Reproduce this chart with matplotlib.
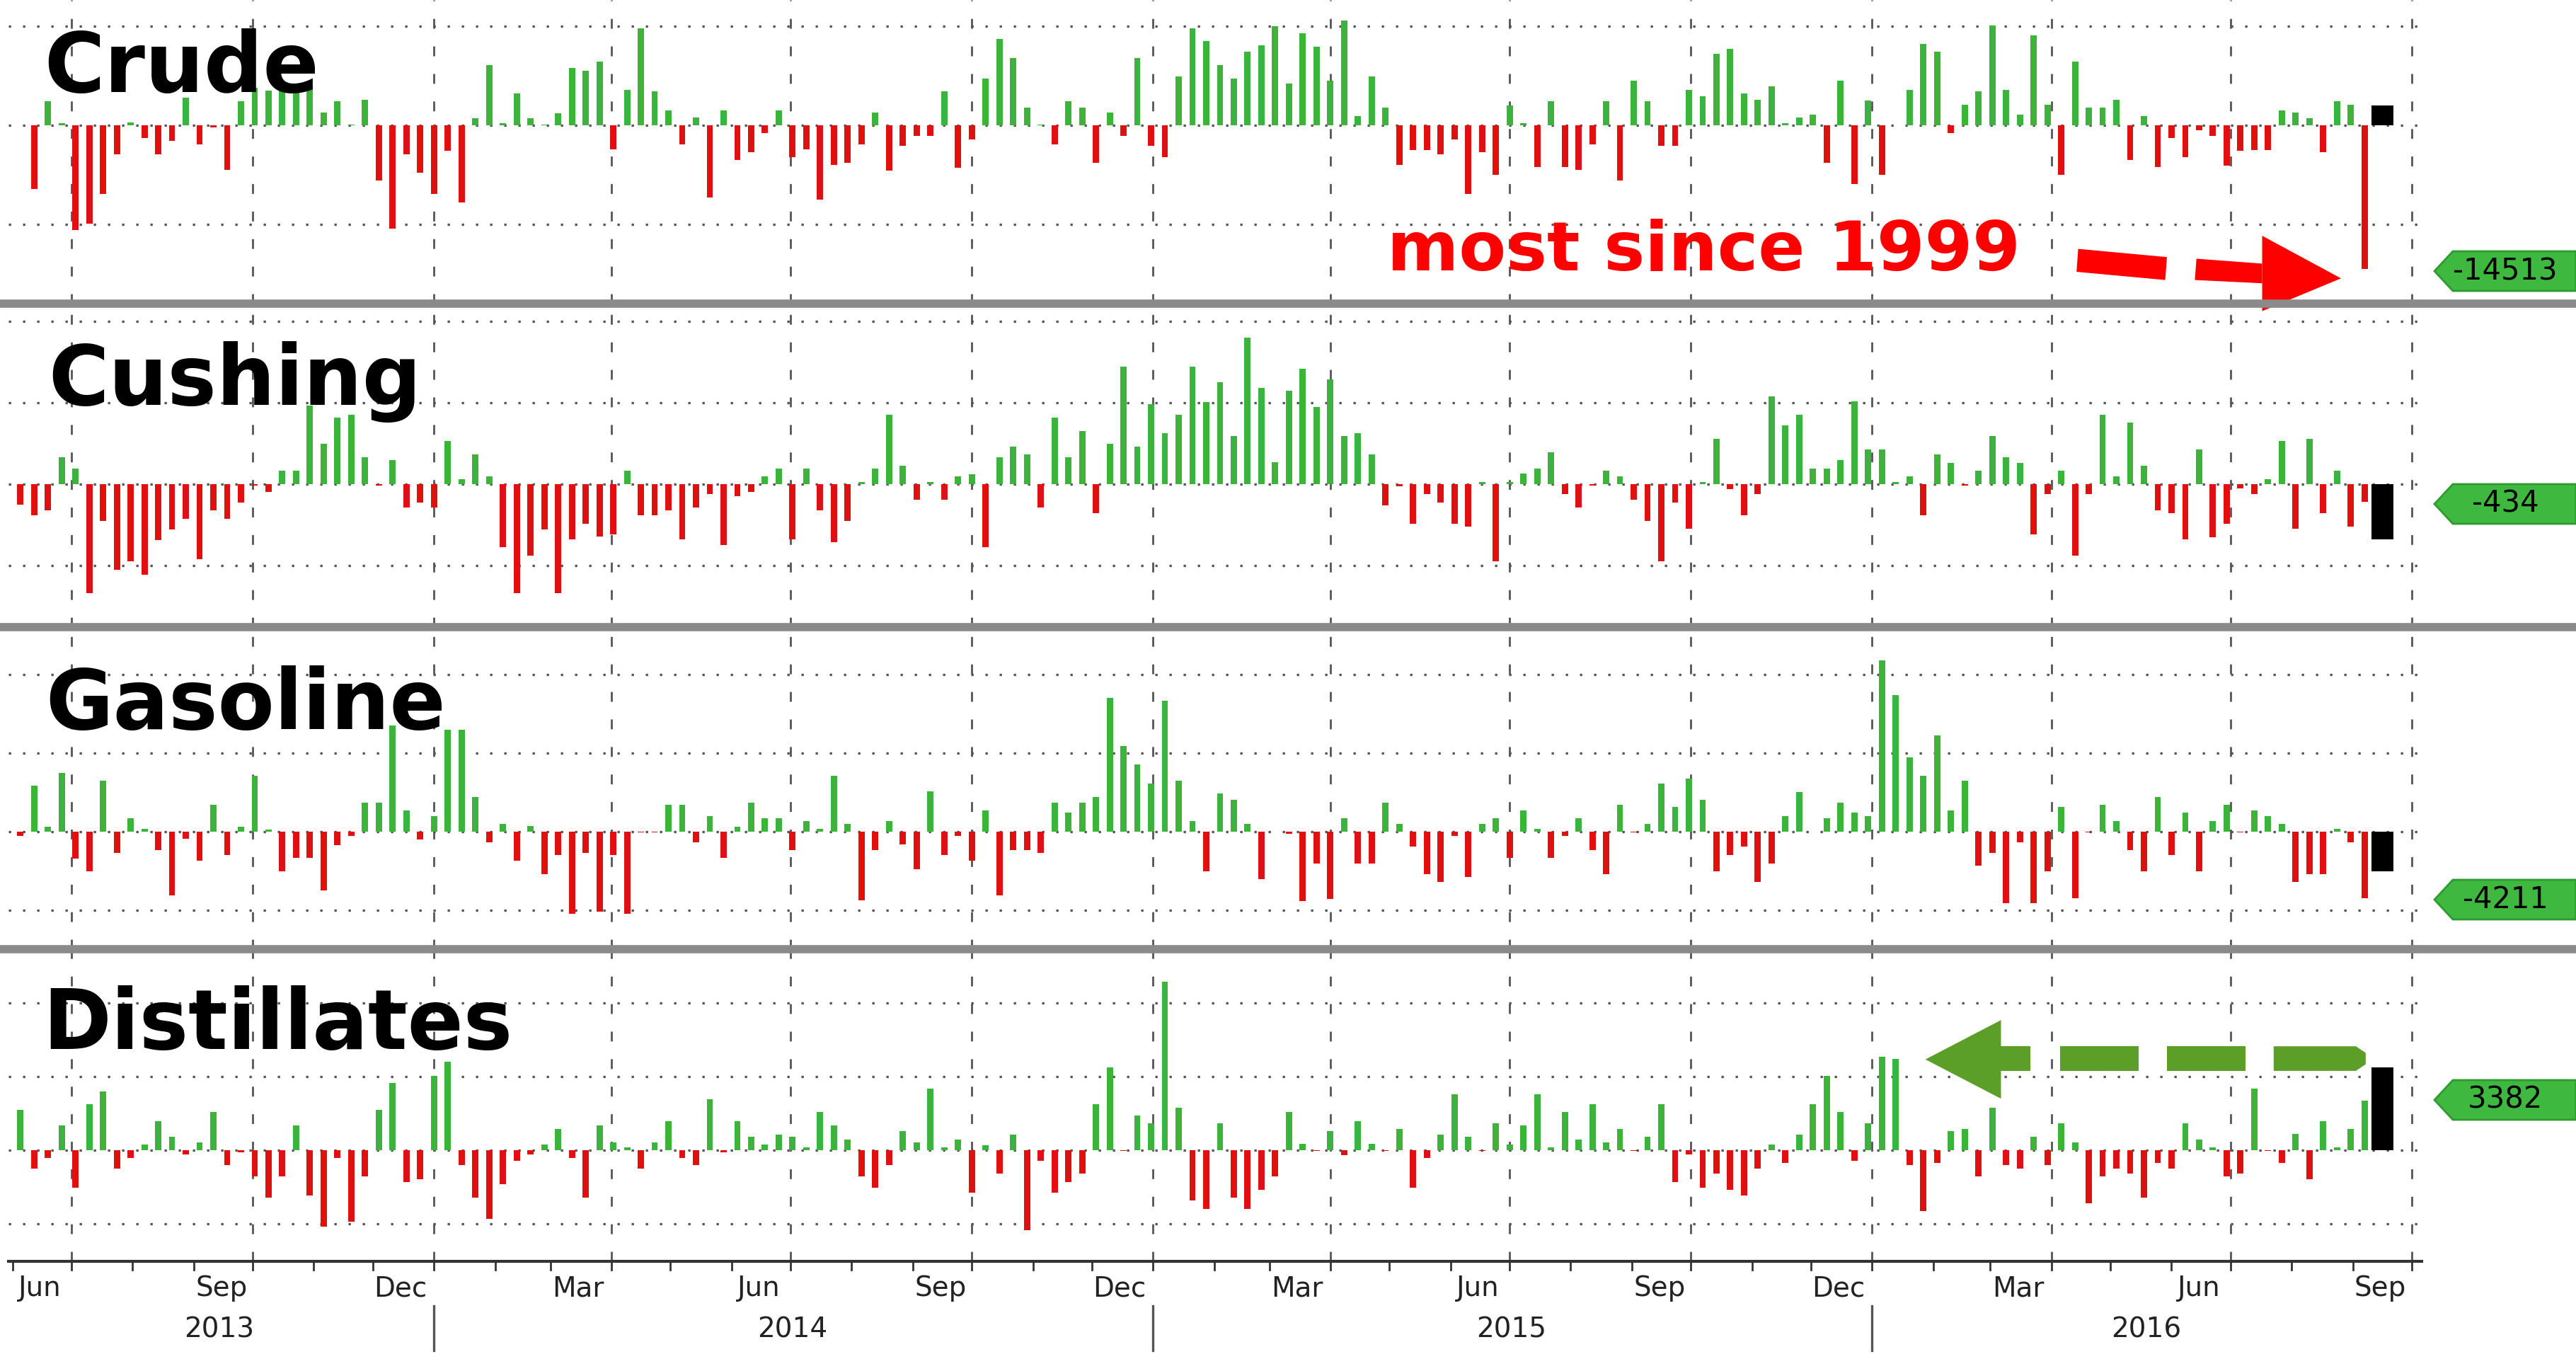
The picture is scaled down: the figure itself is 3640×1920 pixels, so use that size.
import matplotlib
matplotlib.use("Agg")
import matplotlib.pyplot as plt
import matplotlib.transforms as mtrans
import matplotlib.dates as mdt
from matplotlib.patches import Polygon
import pandas as pd
import numpy as np

# ---- data: weekly change, thousand barrels (last value = week reported 2016-09-07)
crude = [-6400, 2400, 200, -10600, -9900, -6900, -2900, 300, -1300, -2900, -1600, 2800, -1900, -200, -4500, 2400, 3800, 3500, 4000, 3500, 3900, 1300, 2400, 100, 2600, -5600, -10400, -2900, -4800, -6900, -2600, -7800, 700, 6100, 200, 3200, 700, 100, 1200, 5800, 5500, 6400, -2400, 3600, 9800, 3400, 1500, -1900, 800, -7300, 1500, -3500, -2700, -800, 1500, -3200, -2400, -7500, -4000, -3800, -1900, 1300, -4600, -2100, -1100, -1100, 3400, -4300, -1400, 4700, 8700, 6800, 1800, 100, -1900, 2400, 1800, -3800, 1300, -1100, 6800, -2100, -3200, 4900, 9800, 8500, 6100, 4700, 7400, 8100, 10000, 4200,
         9300, 7900, 4500, 10600, 900, 4900, 1800, -4000, -2500, -2500, -2900, -1400, -6900, -2700, -5000, 2000, 200, -4200, 2400, -4200, -4500, -1900, 2400, -5600, 4500, 2400, -2100, -2100, 3600, 2900, 7200, 7700, 3200, 2600, 3900, 200, 800, 1100, -3800, 4500, -5900, 2500, -5000, 0, 3600, 8200, 7400, -800, 2100, 3400, 10100, 3600, 1100, 9100, 2100, -5000, 6400, 1800, 1800, 2600, -3500, 900, -4200, -1300, -3200, -500, -1100, -4100, -2600, -2500, -2500, 1500, 1300, 700, -2700, 2400, 2100, -14513]
cushing = [-500, -770, -650, 660, 390, -2680, -910, -2100, -1900, -2220, -1370, -1110, -850, -1840, -650, -850, -450, -40, -190, 330, 330, 1930, 990, 1640, 1700, 660, -40, 600, -570, -450, -570, 1060, 130, 730, 190, -1550, -2680, -1750, -1110, -2680, -1360, -970, -1290, -1230, 330, -770, -770, -650, -1360, -570, -240, -1490, -300, -190, 190, 390, -1360, 390, -650, -1430, -910, 60, 390, 1700, 450, -390, 60, -390, 190, 250, -1550, 660, 920, 730, -570, 1640, 660, 1310, -710, 990, 2890, 920, 1960, 1250, 1700, 2890, 2020, 2510, 1180, 3610, 2370, 540, 2290,
           2830, 1900, 2570, 1180, 1250, 730, -520, -60, -970, -240, -450, -970, -1040, 60, -1890, 60, 260, 390, 780, -240, -570, -40, 330, 190, -390, -910, -1890, -450, -1100, 60, 1120, -130, -770, -240, 2160, 1440, 1710, 390, 390, 600, 2040, 860, 860, 60, 190, -770, 730, 530, -40, 330, 1180, 660, 530, -1230, -240, 330, -1750, -240, 1700, 190, 1510, 450, -650, -710, -1360, 860, -1310, -970, -110, -240, 130, 1060, -1100, 1120, -710, 330, -1040, -434]
gasoline = [-290, 2910, 320, 3720, -1710, -2540, 3240, -1340, 840, 170, -1190, -4040, -440, -1830, 1710, -1490, 320, 3570, 120, -2540, -1680, -1680, -3740, -840, -290, 1860, 1860, 6770, 1370, -480, 990, 6470, 6470, 2190, -660, 510, -1830, 360, -2690, -1490, -5240, -1340, -5090, -1490, -5240, -60, -60, 1710, 1710, -660, 990, -1680, 320, 1860, 840, 840, -1190, 690, 170, 3570, 510, -4380, -1190, 690, -810, -2390, 2570, -1490, -290, -1830, 1370, -4040, -1190, -1190, -1340, 1860, 1220, 1860, 2190, 8520, 5460, 4260, 3060, 8310, 3240, 690, -2540, 2420, 2040, 510, -3030, 0, -140,
            -4410, -2010, -4260, 840, -2010, -2010, 1860, 510, -960, -2690, -3210, -290, -2880, 510, 840, -1680, 1370, 170, -1680, -290, 840, -1190, -2690, 1710, -60, 510, 3060, 1560, 3390, 2040, -2540, -1490, -960, -3210, -2010, 990, 2520, 0, 840, 1860, 1220, 990, 10890, 8670, 4740, 3570, 6120, 1370, 3240, -2160, -1340, -4560, -660, -4560, -2540, 1560, -4230, -60, 1710, 690, -1190, -2540, 2190, -1490, 1220, -2540, 690, 1710, -60, 1370, 990, 510, -3210, -2690, -2690, 170, -660, -4211]
distillates = [2740, -1260, -510, 1660, -2540, 3100, 3970, -1260, -510, 380, 1980, 900, -300, 540, 2580, -1020, -140, -1790, -3230, -1790, 1660, -3070, -5180, -510, -4860, -1790, 2740, 4540, -2140, -1950, 5060, 5980, -1020, -3230, -4670, -2300, -700, -300, 380, 1460, -510, -3230, 1660, 540, 180, -1260, 540, 1980, -510, -1020, 3460, -140, 1980, 900, 380, 1060, 900, 180, 2580, 1660, 740, -1790, -2540, -1020, 1300, 540, 4180, 180, 740, -2860, 340, -1580, 1060, -5420, -700, -2860, -2140, -1580, 3100, 5620, -60, 2340, 1820, 11420, 2900, -3420, -3980, 1820, -3230, -3980, -2700, -1790, 2580,
               420, -60, 1300, -350, 1980, 420, -60, 1460, -2540, -510, 1060, 3810, 900, -60, 1820, 380, 1660, 3810, 180, 2580, 740, 3100, 540, 1460, -60, 900, 3100, -2140, -300, -2540, -1580, -2700, -3070, -1260, 380, -860, 1060, 3100, 5060, 2580, -700, 1820, 6340, 6180, -1020, -4140, -860, 1300, 1460, -1790, 2900, -1020, -1260, 900, -1020, 1820, 540, -3580, -1790, -1260, -1580, -3230, -860, -1260, 1820, 740, 180, -1790, -1580, 4180, -60, -860, 1090, -1950, 1980, 180, 1460, 3382]
marker_vals = [2000, -1360, -2540, 5620]       # black "last" markers as drawn
label_vals = ["-14513", "-434", "-4211", "3382"]
names = ["Crude", "Cushing", "Gasoline", "Distillates"]
grids = [[-10000, 0, 10000], [-2000, 0, 2000, 4000], [-5000, 0, 5000, 10000], [-5000, 0, 5000, 10000]]
month_labels = ["Jun", "Sep", "Dec", "Mar", "Jun", "Sep", "Dec", "Mar", "Jun", "Sep", "Dec", "Mar", "Jun", "Sep"]
month_dates = ["2013-06-15", "2013-09-15", "2013-12-15", "2014-03-15", "2014-06-15", "2014-09-15", "2014-12-15",
               "2015-03-15", "2015-06-15", "2015-09-15", "2015-12-15", "2016-03-15", "2016-06-15", "2016-09-15"]
year_labels = ["2013", "2014", "2015", "2016"]
year_dates = ["2013-09-14", "2014-07-02", "2015-07-02", "2016-05-19"]

W, H = 3640, 1920
fig = plt.figure(figsize=(W / 200, H / 200), dpi=200)
fig.patch.set_facecolor("white")

def dn(s): return mdt.date2num(pd.Timestamp(s).to_pydatetime())
end = pd.Timestamp("2016-09-07")
xmin, xmax = dn("2013-05-30"), dn("2016-10-06")
geo = [(0, 429, 177, 71.4), (429, 886, 684, 17.4), (886, 1341, 1175, 45.0), (1341, 1782, 1625, 48.0)]
series = [crude, cushing, gasoline, distillates]
GREEN, RED = "#3cb43c", "#e01010"
left_px, right_px = 12, 3422

def fx(px): return px / W
def fy(py): return 1 - py / H

qstarts = [mdt.date2num(d.to_pydatetime()) for d in pd.date_range("2013-07-01", "2016-10-01", freq="QS")]
axes = []
for k, (top, bot, zero, s) in enumerate(geo):
    ax = fig.add_axes([fx(left_px), fy(bot), fx(right_px - left_px), (bot - top) / H])
    ax.set_xlim(xmin, xmax)
    ax.set_ylim(-(bot - zero) * s, (zero - top) * s)
    ax.axis("off")
    for g in grids[k]:
        ax.axhline(g, color="#555555", lw=1.2, ls=(0, (1, 5)), zorder=1)
    for q in qstarts:
        ax.axvline(q, color="#555555", lw=1.0, ls=(0, (5, 9)), zorder=1)
    vals = np.array(series[k], dtype=float)
    n = len(vals)
    x = [dn(end - pd.Timedelta(days=7 * (n - 1 - i))) for i in range(n)]
    cols = [GREEN if v >= 0 else RED for v in vals]
    ax.bar(x, vals, width=3.2, color=cols, zorder=2)
    ax.bar([dn(end + pd.Timedelta(days=9))], [marker_vals[k]], width=11, color="black", zorder=3)
    axes.append(ax)

# titles
title_pos = [(62, 130), (68, 572), (64, 1030), (60, 1482)]
for (x, y), nm in zip(title_pos, names):
    fig.text(fx(x), fy(y), nm, fontsize=42, fontweight="bold", color="black",
             family="DejaVu Sans", ha="left", va="baseline", zorder=10)

# separators
for y in [429, 886, 1341]:
    fig.add_artist(plt.Line2D([0, 1], [fy(y), fy(y)], color="#8a8a8a", lw=4.2, transform=fig.transFigure))

# right value tags
tag_y = [383, 712, 1271, 1554]
for yc, lab in zip(tag_y, label_vals):
    hh = 28
    pts = [(3440, yc), (3466, yc - hh), (3640, yc - hh), (3640, yc + hh), (3466, yc + hh)]
    fig.add_artist(Polygon([(fx(a), fy(b)) for a, b in pts], closed=True, transform=fig.transFigure,
                           facecolor="#3fb83f", edgecolor="#2f9a2f", lw=1))
    fig.text(fx(3540), fy(yc), lab, fontsize=15, ha="center", va="center",
             family=["Liberation Sans Narrow", "DejaVu Sans"], color="black")

# bottom axis
bt = mtrans.blended_transform_factory(axes[-1].transData, fig.transFigure)
fig.add_artist(plt.Line2D([fx(left_px), fx(right_px)], [fy(1782), fy(1782)], color="#333333", lw=1.5, transform=fig.transFigure))
for m in pd.date_range("2013-06-01", "2016-10-01", freq="MS"):
    v = mdt.date2num(m.to_pydatetime())
    fig.add_artist(plt.Line2D([v, v], [fy(1782), fy(1794)], color="#333333", lw=1.0, transform=bt))
for d, lab in zip(month_dates, month_labels):
    fig.text(dn(d), fy(1820), lab, transform=bt, fontsize=14, ha="center", va="center", color="#222222")
for d, lab in zip(year_dates, year_labels):
    fig.text(dn(d), fy(1878), lab, transform=bt, fontsize=14, ha="center", va="center", color="#222222")
for yr in ["2014-01-01", "2015-01-01", "2016-01-01"]:
    v = dn(yr)
    fig.add_artist(plt.Line2D([v, v], [fy(1845), fy(1908)], color="#555555", lw=1.2, transform=bt))

# annotation: most since 1999
fig.text(fx(1960), fy(382), "most since 1999", fontsize=35, fontweight="bold", color="#ff0000",
         family="DejaVu Sans", ha="left", va="baseline")
def rp(pts):
    return [(fx(a * 2.3214), fy(b * 2.3133)) for a, b in pts]
for poly in [[(1265, 152), (1319, 157), (1318, 171), (1264, 166)],
             [(1337, 158), (1377, 161), (1377, 173), (1336, 171)],
             [(1377, 144), (1425, 170), (1377, 190)]]:
    fig.add_artist(Polygon(rp(poly), closed=True, transform=fig.transFigure, facecolor="#ff0000", edgecolor="none"))
G2 = "#5b9e28"
for poly in [[(1172, 647), (1218, 623), (1218, 671)],
             [(1217, 639), (1236, 639), (1236, 654), (1217, 654)],
             [(1254, 639), (1302, 639), (1302, 654), (1254, 654)],
             [(1319, 639), (1367, 639), (1367, 654), (1319, 654)],
             [(1384, 639), (1434, 639), (1440, 643), (1440, 650), (1434, 654), (1384, 654)]]:
    fig.add_artist(Polygon(rp(poly), closed=True, transform=fig.transFigure, facecolor=G2, edgecolor="none"))

fig.savefig("out.png", dpi=200, facecolor="white")
